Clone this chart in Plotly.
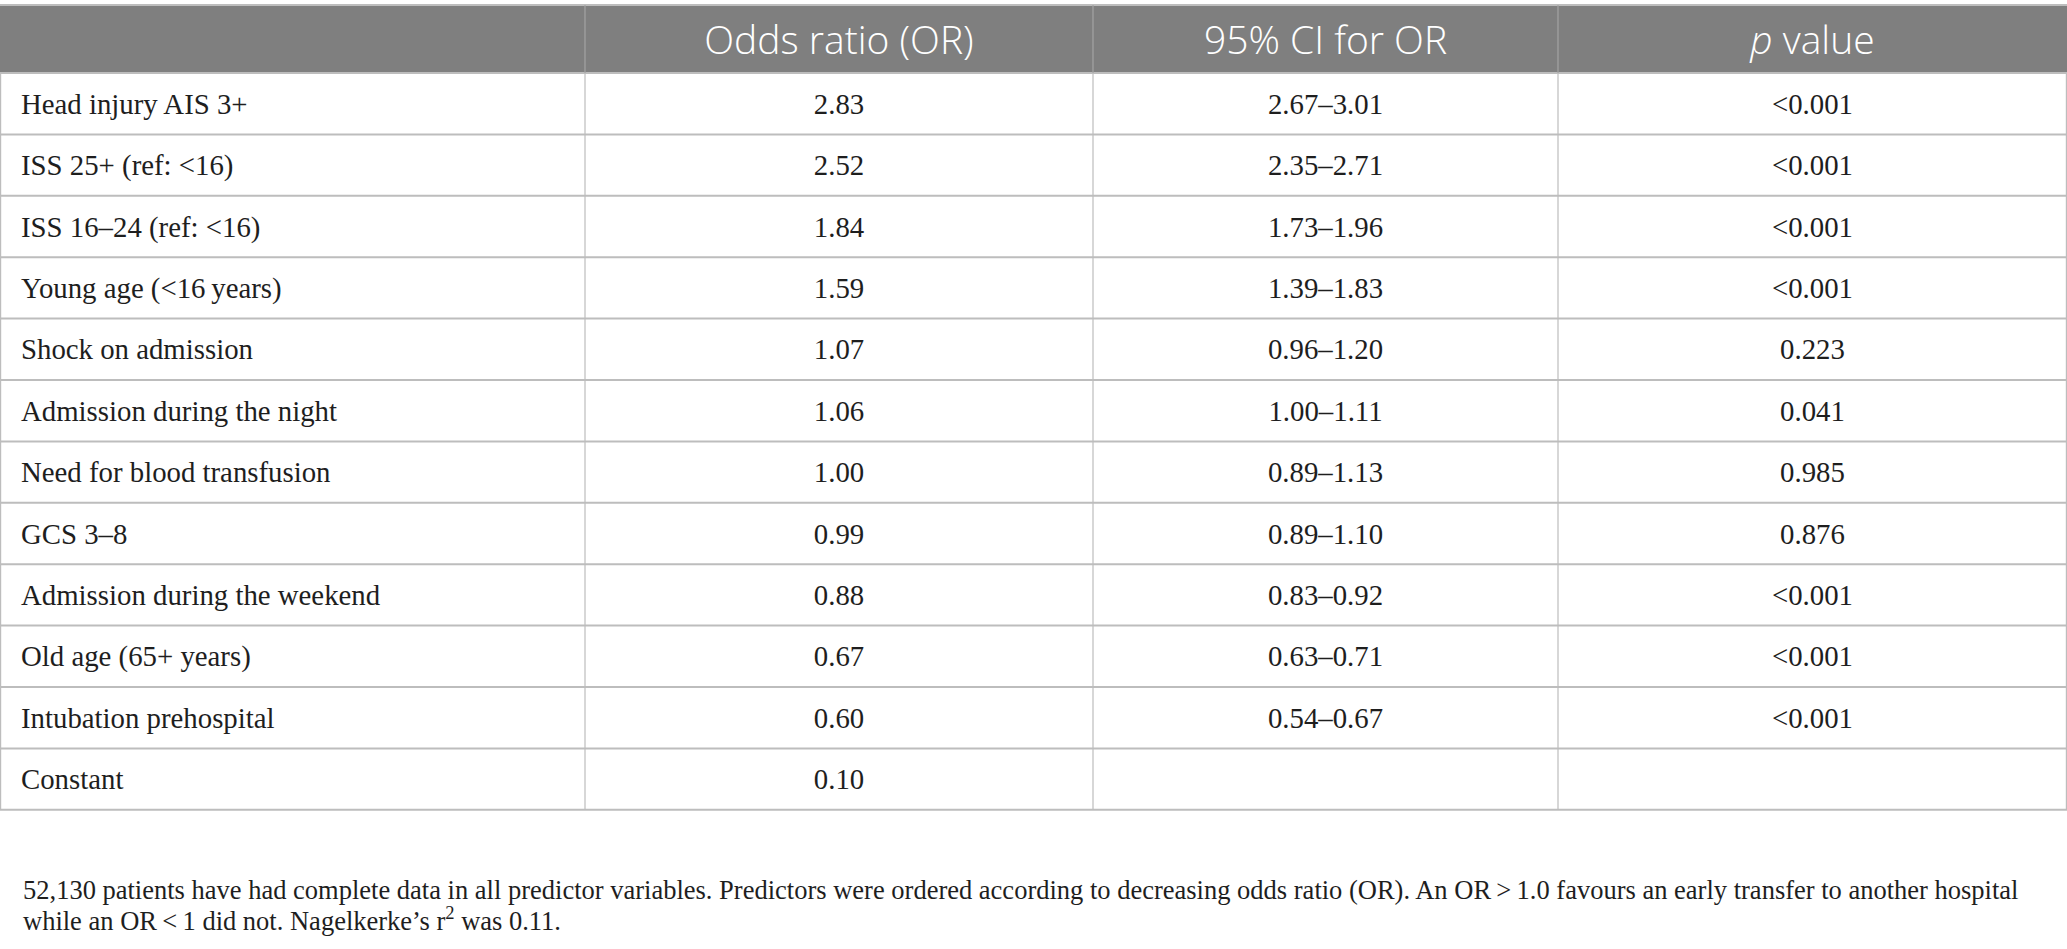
from itertools import accumulate

import plotly.graph_objects as go

# table content
predictors = [
    "Head injury AIS 3+",
    "ISS 25+ (ref: &lt;16)",
    "ISS 16\u201324 (ref: &lt;16)",
    "Young age (&lt;16\u2009years)",
    "Shock on admission",
    "Admission during the night",
    "Need for blood transfusion",
    "GCS 3\u20138",
    "Admission during the weekend",
    "Old age (65+ years)",
    "Intubation prehospital",
    "Constant",
]
odds_ratio = [2.83, 2.52, 1.84, 1.59, 1.07, 1.06, 1.00, 0.99, 0.88, 0.67, 0.60, 0.10]
ci_lower = [2.67, 2.35, 1.73, 1.39, 0.96, 1.00, 0.89, 0.89, 0.83, 0.63, 0.54, None]
ci_upper = [3.01, 2.71, 1.96, 1.83, 1.20, 1.11, 1.13, 1.10, 0.92, 0.71, 0.67, None]
p_values = ["&lt;0.001", "&lt;0.001", "&lt;0.001", "&lt;0.001", "0.223", "0.041",
            "0.985", "0.876", "&lt;0.001", "&lt;0.001", "&lt;0.001", ""]
headers = ["", "Odds ratio (OR)", "95% CI for OR", "<i>p</i> value"]

footnote_lines = [
    "52,130 patients have had complete data in all predictor variables. "
    "Predictors were ordered according to decreasing odds ratio (OR). "
    "An OR\u2009&gt;\u20091.0 favours an early transfer to another hospital",
    "while an OR\u2009&lt;\u20091 did not. Nagelkerke\u2019s r<sup>2</sup> was 0.11.",
]

or_text = [f"{v:.2f}" for v in odds_ratio]
ci_text = [f"{lo:.2f}\u2013{hi:.2f}" if lo is not None else "" for lo, hi in zip(ci_lower, ci_upper)]

# geometry (pixels)
W, H = 2067, 949
col_widths = [585, 508, 465, 509]
col_edges = [0] + list(accumulate(col_widths))
table_top = 5
header_h = 68
row_h = 61.4
text_pad = 21
header_nudge = 5
body_nudge = 3
foot_y = [890, 919]

n_rows = len(predictors)
row_edges = [table_top + header_h + i * row_h for i in range(n_rows + 1)]
row_mid = [(a + b) / 2 + body_nudge for a, b in zip(row_edges[:-1], row_edges[1:])]
col_mid = [(a + b) / 2 for a, b in zip(col_edges[:-1], col_edges[1:])]
header_mid = table_top + header_h / 2 + header_nudge

body_font = dict(family="Liberation Serif", size=28.8, color="#1e1e1e")
line_col = "#bdbdbd"

fig = go.Figure()

shapes = [dict(type="rect", x0=0, x1=W, y0=table_top, y1=table_top + header_h,
               fillcolor="#7f7f7f", line=dict(width=0), layer="below")]
shapes.append(dict(type="line", x0=0, x1=W, y0=table_top, y1=table_top,
                   line=dict(color=line_col, width=2)))
for y in row_edges:
    shapes.append(dict(type="line", x0=0, x1=W, y0=y, y1=y,
                       line=dict(color=line_col, width=2)))
for i, x in enumerate(col_edges):
    x = min(max(x, 0.6), W - 0.6)
    shapes.append(dict(type="line", x0=x, x1=x, y0=table_top + header_h, y1=row_edges[-1],
                       line=dict(color=line_col, width=1.2)))
    if 0 < i < len(col_widths):
        shapes.append(dict(type="line", x0=x, x1=x, y0=table_top, y1=table_top + header_h,
                           line=dict(color="#a3a3a3", width=1.2)))

# header labels
fig.add_trace(go.Scatter(
    x=col_mid[1:], y=[header_mid] * 3, text=headers[1:], mode="text",
    textposition="middle center", hoverinfo="skip",
    textfont=dict(family="Open Sans", size=39, color="white", weight=300),
))

# first column, left aligned
fig.add_trace(go.Scatter(
    x=[col_edges[0] + text_pad] * n_rows, y=row_mid, text=predictors, mode="text",
    textposition="middle right", hoverinfo="skip", textfont=body_font,
))

# numeric columns, centred (blank cells skipped)
for k, col in enumerate([or_text, ci_text, p_values], start=1):
    keep = [i for i, t in enumerate(col) if t]
    fig.add_trace(go.Scatter(
        x=[col_mid[k]] * len(keep), y=[row_mid[i] for i in keep],
        text=[col[i] for i in keep], mode="text",
        textposition="middle center", hoverinfo="skip", textfont=body_font,
    ))

for line, y in zip(footnote_lines, foot_y):
    fig.add_annotation(
        text=line, x=text_pad, y=y, xref="x", yref="y",
        xanchor="left", yanchor="middle", showarrow=False,
        font=dict(family="Liberation Serif", size=26.5, color="#1e1e1e"),
    )

fig.update_layout(
    width=W, height=H, margin=dict(l=0, r=0, t=0, b=0),
    paper_bgcolor="white", plot_bgcolor="white", showlegend=False,
    shapes=shapes,
    xaxis=dict(range=[0, W], visible=False, fixedrange=True),
    yaxis=dict(range=[H, 0], visible=False, fixedrange=True),
)

# drop the browser's default 8px body margin so the figure sits at the page corner
fig.write_html("out.html", config={"displayModeBar": False},
               post_script="document.body.style.margin = '0';")
